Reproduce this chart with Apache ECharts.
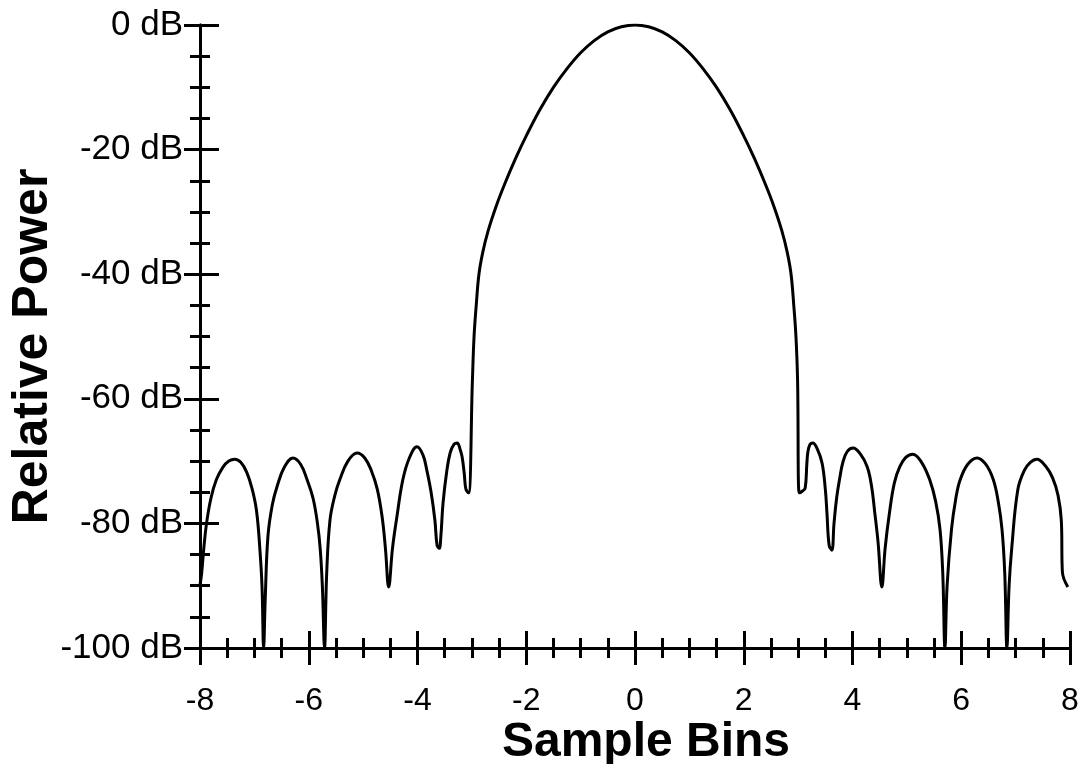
<!DOCTYPE html>
<html>
<head>
<meta charset="utf-8">
<script src="https://cdn.jsdelivr.net/npm/echarts@6/dist/echarts.min.js"></script>
<style>
html,body{margin:0;padding:0;background:#fff;}
#chart{width:1082px;height:764px;}
</style>
</head>
<body>
<div id="chart"></div>
<script>
// Sample bins (x) and relative power in dB (y)
const binsX = [
  -8.00,-7.97,-7.93,-7.88,-7.80,-7.70,-7.58,-7.47,-7.36,-7.25,-7.14,-7.04,-6.96,-6.90,-6.86,-6.83,
  -6.80,-6.75,-6.67,-6.58,-6.45,-6.29,-6.15,-6.03,-5.92,-5.84,-5.79,-5.75,-5.71,
  -5.67,-5.61,-5.52,-5.43,-5.28,-5.11,-4.97,-4.85,-4.74,-4.65,-4.59,-4.53,
  -4.46,-4.38,-4.27,-4.15,-4.01,-3.90,-3.83,-3.75,-3.68,-3.64,-3.60,
  -3.57,-3.53,-3.46,-3.40,-3.33,-3.27,-3.22,-3.18,-3.14,-3.11,-3.06,
  -2.99,-2.96,-2.92,-2.87,-2.80,-2.70,-2.55,-2.40,-2.20,-2.00,-1.75,-1.50,-1.25,-1.00,-0.75,-0.50,-0.25,0.00,
  0.25,0.50,0.75,1.00,1.25,1.50,1.75,2.00,2.20,2.40,2.55,2.70,2.80,2.87,2.92,2.96,2.99,
  3.02,3.08,3.13,3.16,3.18,3.22,3.27,3.35,3.44,3.50,3.53,3.57,3.62,
  3.66,3.71,3.77,3.82,3.90,4.01,4.14,4.27,4.35,4.41,4.47,4.54,
  4.60,4.68,4.77,4.87,4.98,5.11,5.27,5.42,5.53,5.61,5.66,5.70,
  5.74,5.82,5.90,5.98,6.12,6.29,6.45,6.59,6.68,6.75,6.80,6.84,
  6.88,6.93,7.04,7.16,7.27,7.39,7.55,7.68,7.78,7.84,7.86,7.96
];
const powerDb = [
  -89.9,-88.0,-84.0,-80.0,-76.0,-73.0,-71.0,-70.0,-69.7,-70.2,-71.8,-74.5,-78.0,-84.0,-90.0,-100,
  -92.0,-82.0,-77.0,-74.0,-71.0,-69.5,-70.5,-73.0,-76.0,-80.0,-84.0,-90.0,-100,
  -88.0,-79.5,-75.5,-73.0,-70.0,-68.7,-69.5,-71.5,-74.5,-79.0,-84.0,-90.2,
  -84.0,-79.0,-73.0,-69.5,-67.7,-69.0,-71.4,-75.0,-79.5,-83.5,-84.0,
  -82.0,-76.7,-71.5,-68.7,-67.3,-67.1,-68.0,-69.3,-72.0,-74.5,-75.1,
  -57.0,-50.0,-45.0,-40.0,-36.5,-33.0,-29.0,-25.6,-21.5,-17.8,-13.6,-10.0,-7.0,-4.45,-2.5,-1.1,-0.28,0.0,
  -0.28,-1.1,-2.5,-4.45,-7.0,-10.0,-13.6,-17.8,-21.5,-25.6,-29.0,-33.0,-36.5,-40.0,-45.0,-50.0,-57.0,
  -75.1,-74.8,-74.3,-70.5,-68.5,-67.3,-67.1,-68.0,-70.3,-74.5,-78.3,-83.5,-84.3,
  -80.0,-75.8,-72.5,-70.3,-68.5,-67.9,-68.8,-70.9,-74.0,-78.3,-83.0,-90.2,
  -84.0,-78.3,-73.5,-70.9,-69.4,-68.9,-70.2,-73.0,-76.5,-81.0,-88.0,-100,
  -90.0,-81.0,-76.0,-73.0,-70.5,-69.5,-70.5,-73.0,-76.5,-81.0,-88.0,-100,
  -90.0,-83.8,-74.6,-71.5,-70.2,-69.7,-70.8,-72.7,-75.5,-79.5,-87.8,-90.2
];
const xTitle = 'Sample Bins';
const yTitle = 'Relative Power';
const yUnit = ' dB';

const lineData = binsX.map((x, i) => [x, powerDb[i]]);
const FONT = 'Liberation Sans, Arial, Helvetica, sans-serif';
const axisLine = { show: true, onZero: false, lineStyle: { color: '#000', width: 3 } };

const chart = echarts.init(document.getElementById('chart'), null, { renderer: 'canvas' });
chart.setOption({
  animation: false,
  backgroundColor: '#fff',
  grid: { left: 200, right: 12, top: 25, bottom: 116, outerBoundsMode: 'none', containLabel: false },
  xAxis: [
    {
      type: 'value', min: -8, max: 8, interval: 2, position: 'bottom',
      axisLine: axisLine,
      axisTick: { show: true, inside: true, length: 17, lineStyle: { color: '#000', width: 3 } },
      minorTick: { show: true, splitNumber: 4, length: 10, lineStyle: { color: '#000', width: 3 } },
      axisLabel: { show: false },
      splitLine: { show: false }, minorSplitLine: { show: false }
    },
    {
      type: 'value', min: -8, max: 8, interval: 2, position: 'bottom',
      axisLine: axisLine,
      axisTick: { show: true, inside: false, length: 17, lineStyle: { color: '#000', width: 3 } },
      minorTick: { show: true, splitNumber: 4, length: 10, lineStyle: { color: '#000', width: 3 } },
      axisLabel: { show: true, margin: 37, color: '#000', fontSize: 32, fontFamily: FONT },
      splitLine: { show: false }, minorSplitLine: { show: false },
      name: xTitle, nameLocation: 'middle', nameGap: 71, nameMoveOverlap: false,
      nameTextStyle: { color: '#000', fontSize: 48, fontWeight: 'bold', fontFamily: FONT, padding: [0, 0, 0, 22] }
    }
  ],
  yAxis: [
    {
      type: 'value', min: -100, max: 0, interval: 20, position: 'left',
      axisLine: axisLine,
      axisTick: { show: true, inside: true, length: 19, lineStyle: { color: '#000', width: 3 } },
      minorTick: { show: true, splitNumber: 4, length: 10, lineStyle: { color: '#000', width: 3 } },
      axisLabel: { show: false },
      splitLine: { show: false }, minorSplitLine: { show: false }
    },
    {
      type: 'value', min: -100, max: 0, interval: 20, position: 'left',
      axisLine: axisLine,
      axisTick: { show: true, inside: false, length: 16, lineStyle: { color: '#000', width: 3 } },
      minorTick: { show: true, splitNumber: 4, length: 10, lineStyle: { color: '#000', width: 3 } },
      axisLabel: { show: true, margin: 17, color: '#000', fontSize: 35, fontFamily: FONT,
        formatter: v => v + yUnit },
      splitLine: { show: false }, minorSplitLine: { show: false },
      name: yTitle, nameLocation: 'middle', nameGap: 142, nameRotate: 90, nameMoveOverlap: false,
      nameTextStyle: { color: '#000', fontSize: 50, fontWeight: 'bold', fontFamily: FONT, padding: [0, 20, 0, 0] }
    }
  ],
  series: [{
    type: 'line', xAxisIndex: 0, yAxisIndex: 0,
    data: lineData, showSymbol: false, smooth: 0.4,
    lineStyle: { color: '#000', width: 3 },
    clip: true
  }]
});
</script>
</body>
</html>
